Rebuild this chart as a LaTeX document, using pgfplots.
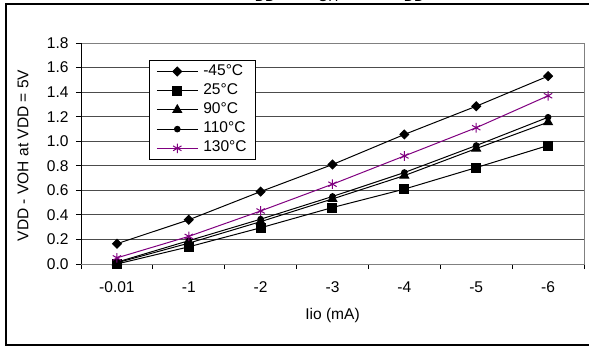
\documentclass[border=0pt]{standalone}
\usepackage{fontspec}
\setmainfont{Liberation Sans}
\usepackage{pgfplots}
\pgfplotsset{compat=1.18}
\usepackage{pgfplotstable}
\definecolor{xlpurple}{RGB}{128,0,128}
\pgfplotstableread{
x  m45    p25    p90    p110   p130
0  0.165  0.000  0.010  0.015  0.050
1  0.360  0.140  0.170  0.190  0.225
2  0.590  0.295  0.345  0.365  0.432
3  0.810  0.460  0.530  0.550  0.650
4  1.055  0.610  0.720  0.745  0.880
5  1.285  0.785  0.940  0.965  1.110
6  1.530  0.965  1.155  1.195  1.370
}\datatable
\begin{document}
\begin{tikzpicture}
\useasboundingbox (0,0) rectangle (589bp,350bp);
\clip (0,0) rectangle (589bp,350bp);
% outer frame
\draw[line width=2bp] (6bp,5bp) rectangle (620bp,346bp);
% clipped title fragments
\begin{scope}[font=\fontsize{14}{16}\selectfont]
\node[anchor=base, inner sep=0pt] at (265bp,348.3bp) {DD};
\node[anchor=base, inner sep=0pt] at (328bp,348.3bp) {OH};
\node[anchor=base, inner sep=0pt] at (414bp,348.3bp) {DD};
\end{scope}
\begin{axis}[
  at={(81bp,86bp)}, anchor=south west,
  scale only axis, width=503bp, height=221bp,
  xmin=-0.5, xmax=6.5, ymin=0, ymax=1.8,
  xtick={0,...,6},
  xticklabels={-0.01,-1,-2,-3,-4,-5,-6},
  minor xtick={-0.5,0.5,...,6.5},
  ytick={0,0.2,...,1.8},
  yticklabel style={/pgf/number format/fixed,/pgf/number format/fixed zerofill,/pgf/number format/precision=1},
  /pgf/number format/assume math mode=true,
  tick align=outside,
  major tick length=5bp,
  minor tick length=5bp,
  xtick style={draw=none},
  minor x tick style={draw=black, line width=0.8bp},
  ytick style={draw=black, line width=0.8bp},
  xtick pos=bottom, ytick pos=left,
  ymajorgrids,
  grid style={black!70, line width=0.8bp},
  axis line style={draw=gray, line width=0.8bp},
  tick label style={font=\fontsize{15.6}{18}\selectfont, text=black},
  xticklabel style={yshift=-9bp},
  yticklabel style={xshift=-4bp},
  label style={font=\fontsize{15.6}{18}\selectfont},
  xlabel={Iio (mA)},
  ylabel={VDD - VOH at VDD = 5V},
  xlabel style={at={(axis description cs:0.5,0)}, anchor=center, yshift=-51bp},
  ylabel style={at={(axis description cs:0,0.5)}, anchor=center, yshift=58bp, xshift=-2bp},
  legend style={at={(axis description cs:0.135,0.923)}, anchor=north west,
    draw=black, line width=0.8bp, font=\fontsize{15.6}{18}\selectfont,
    inner xsep=7bp, inner ysep=1.5bp, row sep=0bp, fill=white,
    nodes={inner sep=2bp, text height=11.2bp, text depth=4bp},
    /tikz/every odd column/.append style={column sep=3bp}},
  legend cell align=left,
  legend image code/.code={
    \draw[mark repeat=2,mark phase=2] plot coordinates {(0bp,0bp) (20.5bp,0bp) (41bp,0bp)};
  },
  every axis plot/.append style={line width=1bp},
]
\addplot[black, mark=square*, mark size=3.1bp, mark options={rotate=45, solid}] table[x=x,y=m45] {\datatable};
\addlegendentry{-45°C}
\addplot[black, mark=square*, mark size=4.5bp] table[x=x,y=p25] {\datatable};
\addlegendentry{25°C}
\addplot[black, mark=triangle*, mark size=5bp] table[x=x,y=p90] {\datatable};
\addlegendentry{90°C}
\addplot[black, mark=*, mark size=2.8bp] table[x=x,y=p110] {\datatable};
\addlegendentry{110°C}
\addplot[xlpurple, mark=asterisk, mark size=4.8bp] table[x=x,y=p130] {\datatable};
\addlegendentry{130°C}
\draw[black, line width=0.9bp] (rel axis cs:0,1) -- (rel axis cs:0,0) -- (rel axis cs:1,0);
\end{axis}
\end{tikzpicture}
\end{document}
